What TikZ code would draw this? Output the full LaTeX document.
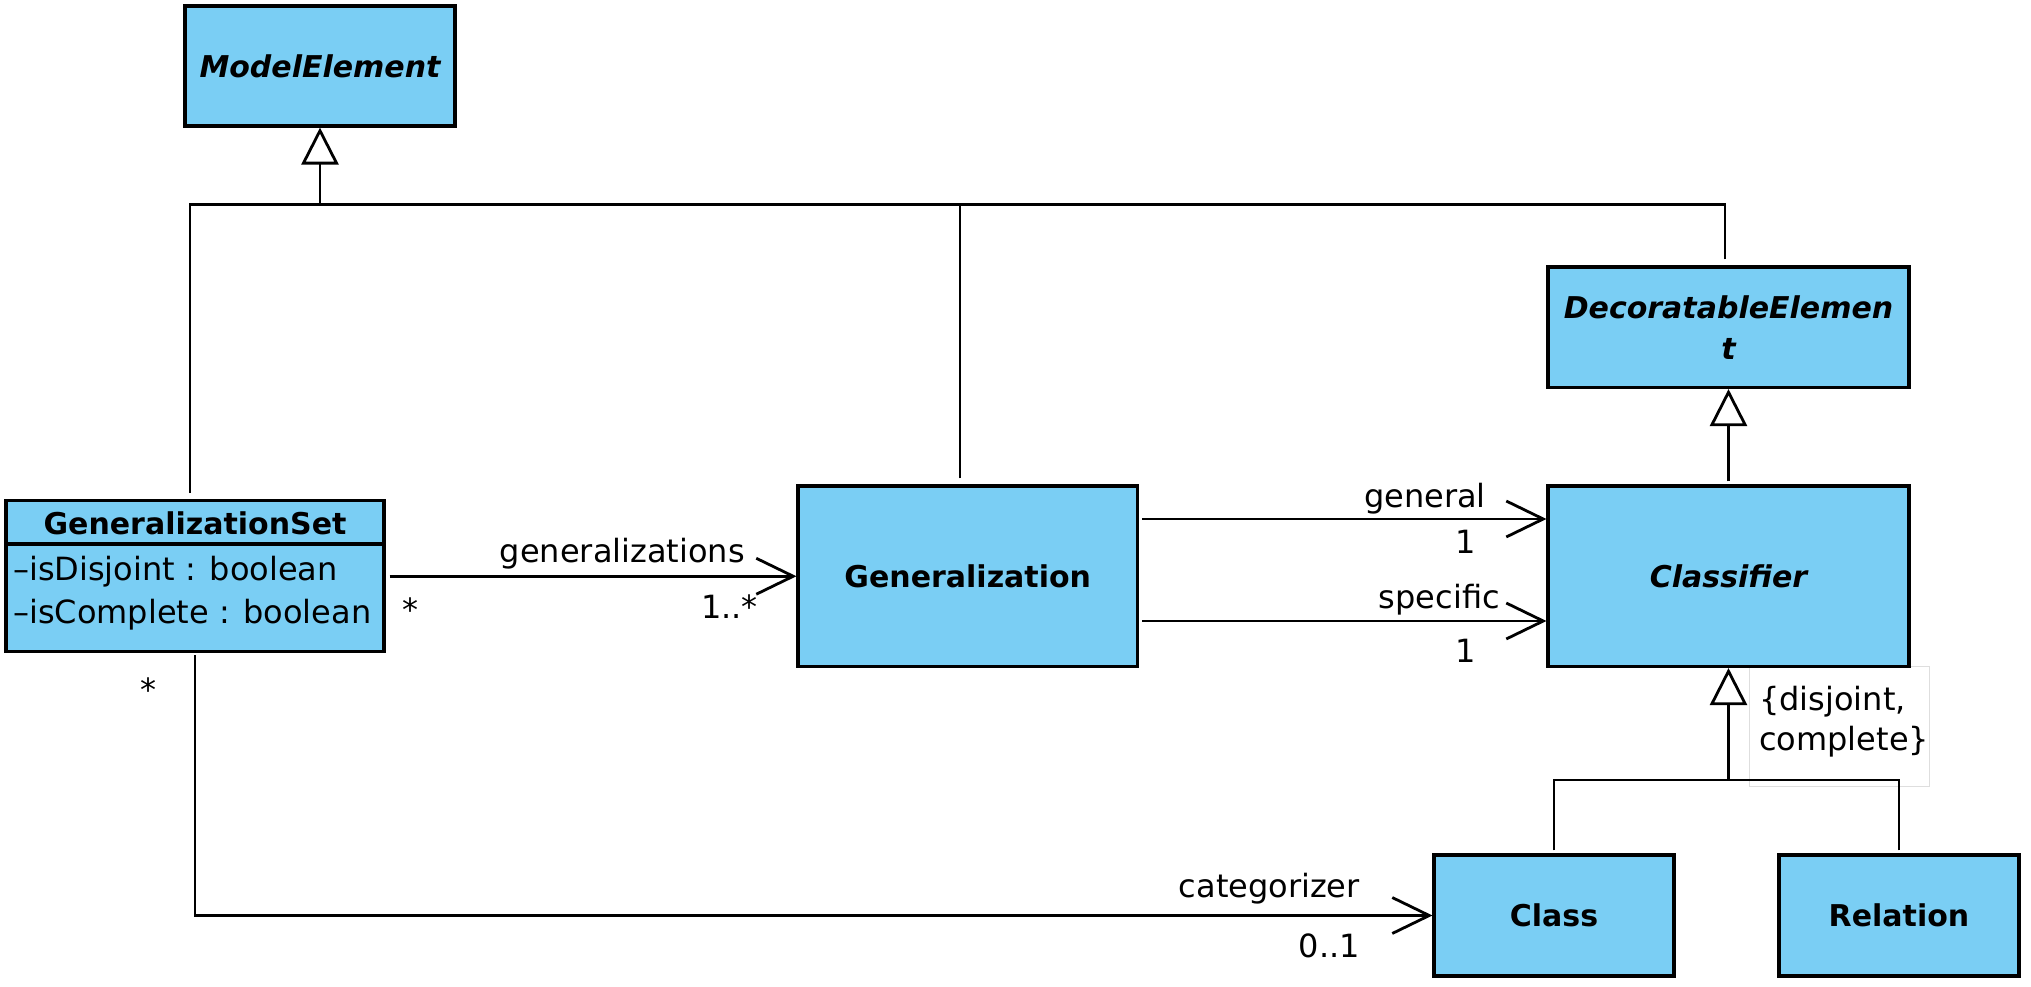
\documentclass[tikz,border=0pt]{standalone}
\usepackage{fontspec}
\setmainfont{DejaVu Sans}[BoldFont={DejaVu Sans Bold},ItalicFont={DejaVu Sans Oblique},BoldItalicFont={DejaVu Sans Bold Oblique}]
\usetikzlibrary{arrows.meta,calc}
\definecolor{umlblue}{RGB}{122,206,244}
\begin{document}
\begin{tikzpicture}[x=1pt,y=1pt,
  umlbox/.style={draw=black, line width=3.1pt, fill=umlblue, inner sep=0pt, align=center, font=\bfseries\fontsize{30}{41}\selectfont},
  abstractbox/.style={umlbox, font=\bfseries\itshape\fontsize{30}{41}\selectfont},
  conn/.style={line width=2.8pt, draw=black},
  inh/.style={conn, -{Triangle[open, length=37pt, width=37pt, fill=white]}},
  assoc/.style={conn, -{Straight Barb[length=37pt, width=36pt]}},
  lab/.style={inner sep=0pt, font=\fontsize{32}{38}\selectfont},
]
\useasboundingbox (0,0) rectangle (2031,-987);

% constraint note box (behind)
\node[draw=black!13, line width=1pt, fill=white, minimum width=180pt, minimum height=120pt, inner sep=0pt] (cons) at (1839,-726) {};

% classes
\node[abstractbox, minimum width=270pt, minimum height=120pt] (me) at (320,-66) {ModelElement};
\node[umlbox, minimum width=378pt, minimum height=151pt] (gs) at (195,-576.25) {};
\node[umlbox, minimum width=339.5pt, minimum height=180.5pt] (gen) at (967.75,-576.25) {Generalization};
\node[abstractbox, minimum width=361pt, minimum height=120.5pt] (de) at (1728.5,-327.25) {DecoratableElemen\\t};
\node[abstractbox, minimum width=361pt, minimum height=180.5pt] (cl) at (1728.5,-576.25) {Classifier};
\node[umlbox, minimum width=240pt, minimum height=121pt] (class) at (1554,-915.5) {Class};
\node[umlbox, minimum width=240pt, minimum height=121pt] (rel) at (1899,-915.5) {Relation};

% GeneralizationSet compartments
\coordinate (hdr) at (0,-544);
\draw[line width=3.1pt] (gs.west |- hdr) -- (gs.east |- hdr);
\node[inner sep=0pt, font=\bfseries\fontsize{30}{36}\selectfont, anchor=base] (gsname) at (195,-534) {GeneralizationSet};
\node[lab, anchor=base west] (gsa1) at (13,-580) {–isDisjoint : boolean};
\node[lab, anchor=base west] (gsa2) at (13,-623) {–isComplete : boolean};

% generalization tree to ModelElement
\coordinate (jT) at (320,-204.5);
\draw[inh] (jT) -- (me.south);
\draw[conn] ([xshift=-5pt,yshift=6pt]gs.north) |- (jT);
\draw[conn] ([xshift=-7.75pt,yshift=6pt]gen.north) |- (jT);
\draw[conn] ([xshift=-3.5pt,yshift=6pt]de.north) |- (jT);

% Classifier -> DecoratableElement
\draw[inh] ([yshift=3pt]cl.north) -- (de.south);

% Class, Relation -> Classifier
\coordinate (jC) at (1728.5,-780);
\draw[inh] (jC) -- (cl.south);
\draw[conn] ([yshift=3pt]class.north) |- (jC);
\draw[conn] ([yshift=3pt]rel.north) |- (jC);

% associations
\draw[assoc] ([xshift=4pt]gs.east) -- (gen.west);
\draw[assoc] ([xshift=3pt,yshift=57.25pt]gen.east) -- ([yshift=57.25pt]cl.west);
\draw[assoc] ([xshift=3pt,yshift=-44.75pt]gen.east) -- ([yshift=-44.75pt]cl.west);
\draw[assoc] ([yshift=-2pt]gs.south) |- (class.west);

% labels
\node[lab, anchor=base east] (lgen) at (745,-562) {generalizations};
\node[lab, anchor=base] (lgsm) at (410,-621) {*};
\node[lab, anchor=base east] (lgenm) at (758,-618) {1..*};
\node[lab, anchor=base east] (lgeneral) at (1486,-507) {general};
\node[lab, anchor=base] (lg1) at (1466,-553) {1};
\node[lab, anchor=base east] (lspec) at (1500,-608) {specific};
\node[lab, anchor=base] (ls1) at (1466,-662) {1};
\node[lab, anchor=base east] (lcat) at (1360,-897) {categorizer};
\node[lab, anchor=base east] (lcatm) at (1360,-957) {0..1};
\node[lab, anchor=base] (lgs2) at (148,-701) {*};
\node[lab, anchor=base west] (lc1) at (1759,-710) {\{disjoint,};
\node[lab, anchor=base west] (lc2) at (1759,-750) {complete\}};
\end{tikzpicture}
\end{document}
